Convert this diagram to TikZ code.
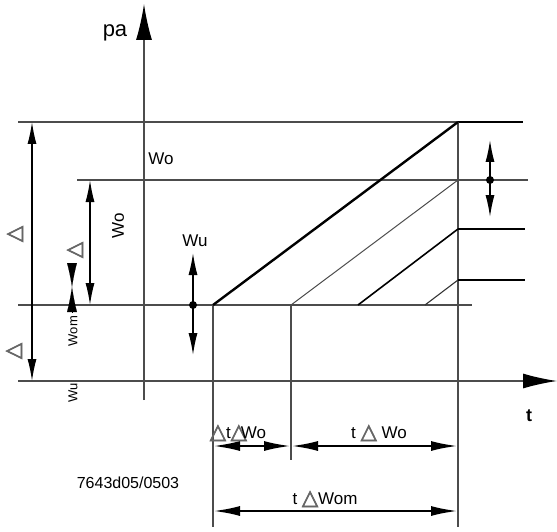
\documentclass[tikz,border=0pt]{standalone}
\usepackage{fontspec}
\setmainfont{Liberation Sans}
\newfontfamily\trifont{DejaVu Sans}[FakeBold=3]
\usetikzlibrary{arrows.meta}
\newcommand{\tri}{{\trifont\fontsize{21}{21}\selectfont\textcolor{black!60}{△}}}

\begin{document}
\begin{tikzpicture}[x=1pt, y=-1pt,
    every node/.style={inner sep=0pt, font=\fontsize{17}{17}\selectfont},
    gridline/.style={draw=black!70, line width=1.3pt},
    heavy/.style={draw=black, line width=2.6pt},
    slope/.style={draw=black, line width=2.4pt},
    dimarrow/.style={{Latex[length=22pt,width=9pt]}-{Latex[length=22pt,width=9pt]}, line width=1.3pt},
    longdim/.style={{Latex[length=27pt,width=10pt]}-{Latex[length=27pt,width=10pt]}, line width=2.4pt},
    ptdot/.style={circle, fill=black, minimum size=8pt},
    small/.style={font=\fontsize{13}{13}\selectfont},
    trilabel/.style={rotate=90}
]
\useasboundingbox (0,0) rectangle (557,532);

% axes
\coordinate (tStart) at (18,381);
\coordinate (tEnd) at (557,381);
\coordinate (pStart) at (144,400);
\coordinate (pEnd) at (144,4);
\draw[gridline, -{Latex[length=34pt,width=15pt,color=black]}] (tStart) -- (tEnd);
\draw[gridline, -{Latex[length=36pt,width=16pt,color=black]}] (pStart) -- (pEnd);
\node (pa) at (115,33) [font=\fontsize{22}{22}\selectfont] {pa};
\node (tlabel) at (529,416) [font=\fontsize{18}{18}\selectfont\bfseries] {t};

% levels
\coordinate (topL) at (18,122);
\coordinate (topR) at (458,122);
\coordinate (topEnd) at (523,122);
\coordinate (woL) at (77,180);
\coordinate (woR) at (458,180);
\coordinate (woEnd) at (528,180);
\coordinate (baseL) at (18,305);
\coordinate (baseEnd) at (472,305);
\draw[gridline] (topL) -- (topR);
\draw[heavy] (topR) -- (topEnd);
\draw[gridline] (woL) -- (woEnd);
\draw[gridline] (baseL) -- (baseEnd);

% verticals
\coordinate (start) at (213,305);
\coordinate (startBot) at (213,527);
\coordinate (mid) at (291,305);
\coordinate (midBot) at (291,460);
\coordinate (endTop) at (458,122);
\coordinate (endBot) at (458,527);
\draw[gridline] (start) -- (startBot);
\draw[gridline] (mid) -- (midBot);
\draw[gridline] (endTop) -- (endBot);

% ramps
\coordinate (rampC) at (358,305);
\coordinate (rampCEnd) at (458,229);
\coordinate (rampD) at (425,305);
\coordinate (rampDEnd) at (458,280);
\draw[slope] (start) -- (topR);
\draw[draw=black!70, line width=1pt] (mid) -- (woR);
\draw[draw=black, line width=1.6pt] (rampC) -- (rampCEnd);
\draw[draw=black!80, line width=1.1pt] (rampD) -- (rampDEnd);
\draw[heavy] (rampCEnd) -- ++(67,0) coordinate (markC);
\draw[heavy] (rampDEnd) -- ++(67,0) coordinate (markD);

% left dimensions
\coordinate (dTop) at (32,122);
\coordinate (dBot) at (32,381);
\coordinate (woTop) at (90,180);
\coordinate (woBot) at (90,305);
\draw[dimarrow] (dTop) -- (dBot);
\draw[dimarrow] (woTop) -- (woBot);
\node (triA) at (15,234) [trilabel] {\tri};
\node (triB) at (14,351) [trilabel] {\tri};
\node (triC) at (75,250) [trilabel] {\tri};
\node (woRot) at (118,226) [rotate=90] {Wo};
\node (womRot) at (73,331) [small, rotate=90] {Wom};
\node (wuRot) at (73,393) [small, rotate=90] {Wu};
\coordinate (bowTop) at (72,263);
\coordinate (bowMid) at (72,287);
\coordinate (bowBot) at (72,312);
\draw[-{Latex[length=24pt,width=10pt]}, line width=0.1pt] (bowTop) -- (bowMid);
\draw[-{Latex[length=25pt,width=10pt]}, line width=0.1pt] (bowBot) -- (bowMid);

% upper and lower swing
\node (wo) at (161,159) {Wo};
\coordinate (wuTop) at (193,253);
\coordinate (wuMid) at (193,305);
\coordinate (wuBot) at (193,355);
\draw[dimarrow] (wuTop) -- (wuBot);
\node[ptdot] (wuDot) at (wuMid) {};
\node (wu) at (195,241) {Wu};
\coordinate (rTop) at (490,140);
\coordinate (rMid) at (490,180);
\coordinate (rBot) at (490,217);
\draw[dimarrow] (rTop) -- (rBot);
\node[ptdot] (rDot) at (rMid) {};

% time dimensions
\coordinate (tA) at (213,446);
\coordinate (tB) at (291,446);
\coordinate (tC) at (458,446);
\coordinate (tD) at (213,511);
\coordinate (tE) at (458,511);
\draw[longdim] (tA) -- (tB);
\draw[longdim] (tB) -- (tC);
\draw[longdim] (tD) -- (tE);
\node (dtWo) at (238,433) {\tri t\tri\hspace{-6pt}Wo};
\node (tWo) at (379,433) {t \tri\ Wo};
\node (tWom) at (325,499) {t \tri Wom};
\node (code) at (128,483) [font=\fontsize{16}{16}\selectfont] {7643d05/0503};
\end{tikzpicture}
\end{document}
